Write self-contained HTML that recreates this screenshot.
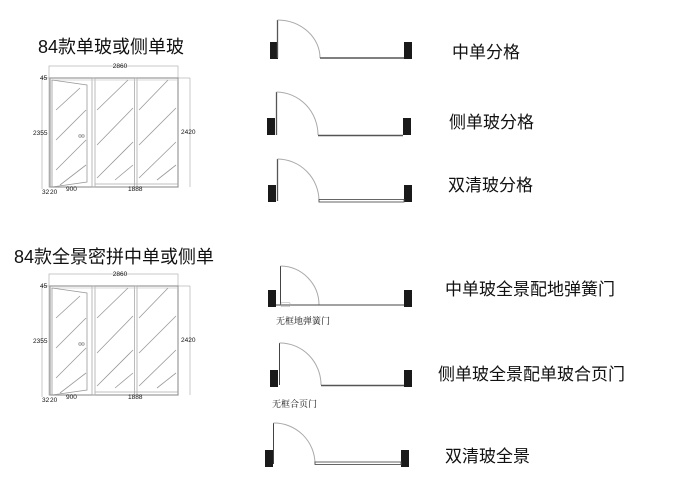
<!DOCTYPE html>
<html><head><meta charset="utf-8"><style>
html,body{margin:0;padding:0;background:#fff;}
svg{display:block;}
text{font-family:"Liberation Sans","Noto Sans CJK SC",sans-serif;fill:#111;}
.s{font-family:"Liberation Serif","Noto Serif CJK SC",serif;}
</style></head><body>
<svg width="690" height="487" viewBox="0 0 690 487" xmlns="http://www.w3.org/2000/svg">
<defs>
<g id="elev" fill="none" stroke-width="0.8">
  <!-- dimension lines -->
  <rect x="49" y="66" width="129" height="121" stroke="#bbb"/>
  <line x1="42" y1="78" x2="49" y2="78" stroke="#bbb"/>
  <line x1="42" y1="78" x2="42" y2="189" stroke="#bbb"/>
  <line x1="178" y1="78" x2="190" y2="78" stroke="#bbb"/>
  <line x1="190" y1="78" x2="190" y2="187" stroke="#bbb"/>
  <!-- frame -->
  <rect x="50" y="78" width="128" height="109" stroke="#999" stroke-width="1.2"/>
  <rect x="92" y="78" width="3" height="109" stroke="#aaa"/>
  <rect x="134.5" y="78" width="2.5" height="109" stroke="#aaa"/>
  <line x1="95" y1="184" x2="178" y2="184" stroke="#aaa"/>
  <line x1="50" y1="80" x2="178" y2="80" stroke="#ccc"/>
  <!-- door leaf -->
  <polyline points="52,80 87,85 87,182 52,187" stroke="#999"/>
  <line x1="52" y1="80" x2="52" y2="187" stroke="#999"/>
  <!-- hatching -->
  <g stroke="#999">
    <line x1="56" y1="110" x2="80" y2="88"/><line x1="56" y1="140" x2="86" y2="110"/>
    <line x1="56" y1="170" x2="86" y2="140"/><line x1="60" y1="185" x2="86" y2="165"/>
    <line x1="97" y1="110" x2="128" y2="80"/><line x1="97" y1="145" x2="133" y2="108"/>
    <line x1="97" y1="178" x2="133" y2="142"/><line x1="115" y1="180" x2="133" y2="165"/>
    <line x1="139" y1="110" x2="168" y2="80"/><line x1="139" y1="145" x2="176" y2="108"/>
    <line x1="139" y1="178" x2="176" y2="142"/><line x1="157" y1="180" x2="176" y2="165"/>
  </g>
  <circle cx="80" cy="136" r="1.3" stroke="#999"/><circle cx="83" cy="136" r="1.3" stroke="#999"/>
</g>
<g id="post"><rect width="8" height="17" fill="#1a1a1a"/></g>
</defs>

<text x="38" y="53" font-size="18">84款单玻或侧单玻</text>
<use href="#elev"/>
<g font-size="6.5" fill="#222">
<text x="120" y="68" text-anchor="middle">2860</text>
<text x="40" y="80">45</text>
<text x="33" y="135">2355</text>
<text x="181" y="134">2420</text>
<text x="42" y="194">32</text><text x="50" y="194">20</text>
<text x="66" y="191">900</text>
<text x="128" y="191">1888</text>
</g>

<text x="14" y="263" font-size="18">84款全景密拼中单或侧单</text>
<use href="#elev" y="208"/>
<g font-size="6.5" fill="#222">
<text x="120" y="276" text-anchor="middle">2860</text>
<text x="40" y="288">45</text>
<text x="33" y="343">2355</text>
<text x="181" y="342">2420</text>
<text x="42" y="402">32</text><text x="50" y="402">20</text>
<text x="66" y="399">900</text>
<text x="128" y="399">1888</text>
</g>

<!-- plans -->
<g fill="none">
 <!-- 1 -->
 <use href="#post" x="270" y="42"/><use href="#post" x="404" y="42"/>
 <line x1="277.5" y1="20" x2="277.5" y2="58" stroke="#555" stroke-width="1.3"/>
 <path d="M277.5 20 A43 38 0 0 1 320 58" stroke="#aaa"/>
 <line x1="320" y1="58" x2="404" y2="58" stroke="#555" stroke-width="1.5"/>
 <!-- 2 -->
 <use href="#post" x="267" y="118"/><use href="#post" x="403" y="118"/>
 <line x1="276.5" y1="92" x2="276.5" y2="135" stroke="#555" stroke-width="1.3"/>
 <path d="M276.5 92 A42 43 0 0 1 318 135" stroke="#aaa"/>
 <line x1="318" y1="135.5" x2="403" y2="135.5" stroke="#555" stroke-width="1.5"/>
 <!-- 3 -->
 <use href="#post" x="268" y="185"/><use href="#post" x="404" y="185"/>
 <line x1="277.5" y1="159" x2="277.5" y2="201" stroke="#555" stroke-width="1.3"/>
 <path d="M277.5 159 A42 42 0 0 1 319 201" stroke="#aaa"/>
 <rect x="319" y="199.5" width="85" height="2.5" stroke="#555" stroke-width="0.9"/>
 <!-- 4 -->
 <use href="#post" x="268" y="290"/><use href="#post" x="404" y="290"/>
 <line x1="280.5" y1="266" x2="280.5" y2="305" stroke="#444" stroke-width="1"/>
 <path d="M280.5 266 A39 39 0 0 1 319 305" stroke="#aaa"/>
 <line x1="276" y1="305" x2="404" y2="305" stroke="#444" stroke-width="1"/>
 <rect x="281" y="302.5" width="9" height="4" rx="1" stroke="#aaa" stroke-width="0.6"/>
 <!-- 5 -->
 <use href="#post" x="270" y="370"/><use href="#post" x="404" y="370"/>
 <line x1="279.5" y1="343" x2="279.5" y2="385" stroke="#444" stroke-width="1"/>
 <path d="M279.5 343 A41 42 0 0 1 321 385" stroke="#aaa"/>
 <line x1="321" y1="385.5" x2="404" y2="385.5" stroke="#555" stroke-width="1.4"/>
 <!-- 6 -->
 <use href="#post" x="265" y="450"/><use href="#post" x="401" y="450"/>
 <line x1="273.5" y1="423" x2="273.5" y2="464" stroke="#444" stroke-width="1"/>
 <path d="M273.5 423 A41 41 0 0 1 315 464" stroke="#aaa"/>
 <rect x="315" y="462" width="86" height="2.5" stroke="#555" stroke-width="0.9"/>
</g>
<text class="s" x="276" y="324" font-size="9">无框地弹簧门</text>
<text class="s" x="272" y="407" font-size="9">无框合页门</text>

<g font-size="17">
<text x="452" y="58">中单分格</text>
<text x="449" y="128">侧单玻分格</text>
<text x="448" y="191">双清玻分格</text>
<text x="445" y="295">中单玻全景配地弹簧门</text>
<text x="438" y="380">侧单玻全景配单玻合页门</text>
<text x="445" y="462">双清玻全景</text>
</g>
</svg>
</body></html>
